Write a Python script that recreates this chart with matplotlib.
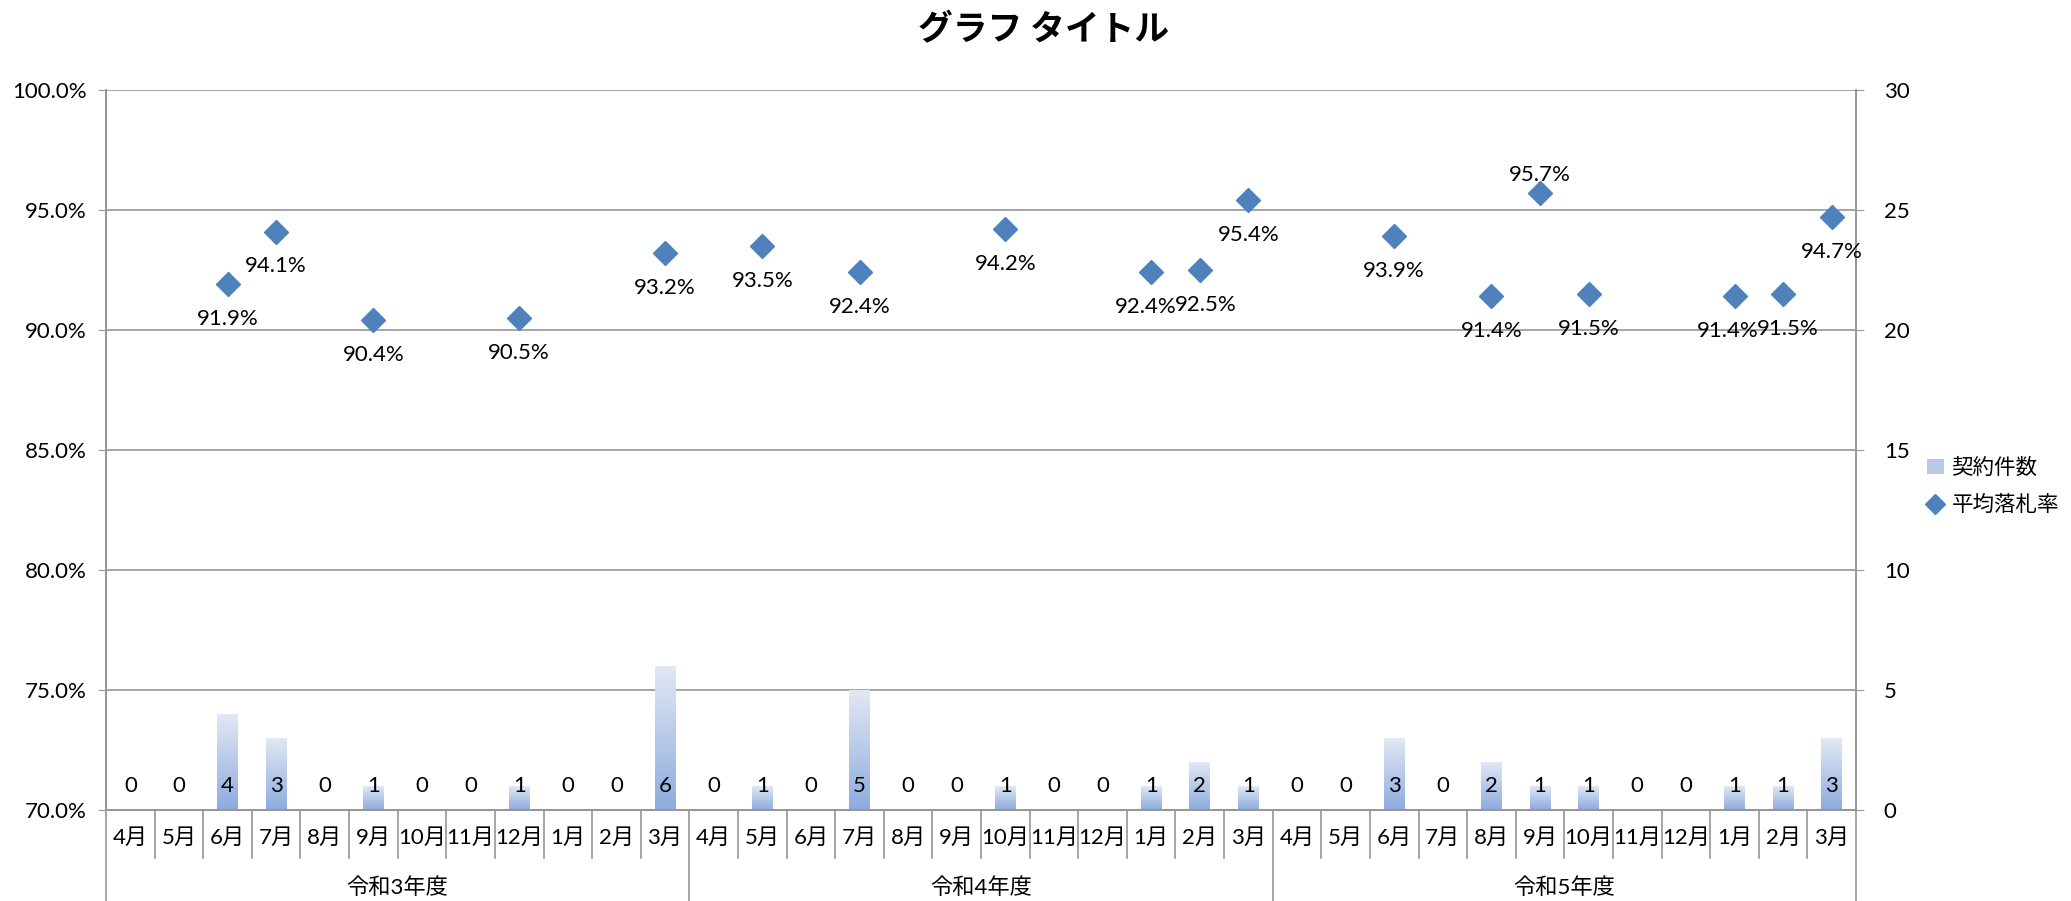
import numpy as np
import matplotlib
matplotlib.use("Agg")
import matplotlib.pyplot as plt
from matplotlib.colors import LinearSegmentedColormap
from matplotlib.patches import Patch
from matplotlib.lines import Line2D
import matplotlib.transforms as mtransforms

plt.rcParams['font.family'] = ['Lato', 'Noto Sans CJK JP', 'DejaVu Sans']

# data
years = ["令和3年度", "令和4年度", "令和5年度"]
months = ["4月", "5月", "6月", "7月", "8月", "9月", "10月", "11月", "12月", "1月", "2月", "3月"]
counts_r3 = [0, 0, 4, 3, 0, 1, 0, 0, 1, 0, 0, 6]
counts_r4 = [0, 1, 0, 5, 0, 0, 1, 0, 0, 1, 2, 1]
counts_r5 = [0, 0, 3, 0, 2, 1, 1, 0, 0, 1, 1, 3]
rate_r3 = [None, None, 91.9, 94.1, None, 90.4, None, None, 90.5, None, None, 93.2]
rate_r4 = [None, 93.5, None, 92.4, None, None, 94.2, None, None, 92.4, 92.5, 95.4]
rate_r5 = [None, None, 93.9, None, 91.4, 95.7, 91.5, None, None, 91.4, 91.5, 94.7]

counts = counts_r3 + counts_r4 + counts_r5
rates = rate_r3 + rate_r4 + rate_r5
labels = months * 3
x = np.arange(len(counts))

# label tweaks (index -> dx in pt), labels placed above for these
lab_dx = {21: -4, 22: 4, 33: -5, 34: 3}
lab_above = {29}

grid_c = "#969696"
blue = "#4f81bd"
fs = 16

fig = plt.figure(figsize=(20.71, 9.01), dpi=100)
ax = fig.add_axes([0.0512, 0.101, 0.845, 0.799])
ax2 = ax.twinx()

# bars on right axis, gradient fill
bars = ax2.bar(x, counts, width=0.43, color="none", edgecolor="none", zorder=2)
cmap = LinearSegmentedColormap.from_list("g", ["#8dabde", "#e2e8f4"])
grad = np.linspace(0, 1, 256).reshape(-1, 1)
for r in bars:
    h = r.get_height()
    if h > 0:
        ax2.imshow(grad, extent=(r.get_x(), r.get_x() + r.get_width(), 0, h),
                   aspect="auto", cmap=cmap, origin="lower", zorder=2)
for i, v in enumerate(counts):
    ax2.text(i, 1, str(v), ha="center", va="center", fontsize=fs, zorder=3)

ax2.set_ylim(0, 30)
ax2.set_xlim(-0.5, len(counts) - 0.5)
ax2.set_yticks(np.arange(0, 31, 5))
ax2.grid(axis="y", color=grid_c, linewidth=1.2)
ax2.set_axisbelow(True)
ax2.tick_params(axis="y", labelsize=fs, length=6, color=grid_c, pad=14)

# rates on left axis
ax.set_zorder(ax2.get_zorder() + 1)
ax.patch.set_visible(False)
rx = [i for i, r in enumerate(rates) if r is not None]
ry = [rates[i] for i in rx]
ax.plot(rx, ry, linestyle="none", marker="D", markersize=12, color=blue,
        markeredgecolor=blue, zorder=4)
for i, r in zip(rx, ry):
    if i in lab_above:
        off = (lab_dx.get(i, 0), 13)
    else:
        off = (lab_dx.get(i, 0), -25)
    ax.annotate(f"{r:.1f}%", (i, r), xytext=off, textcoords="offset points",
                ha="center", va="center", fontsize=fs)

ax.set_ylim(70, 100)
ax.set_xlim(-0.5, len(counts) - 0.5)
ax.set_yticks(np.arange(70, 100.1, 5))
ax.yaxis.set_major_formatter(lambda v, p: f"{v:.1f}%")
ax.tick_params(axis="y", labelsize=fs, length=6, color=grid_c, pad=8)
ax.set_xticks(x)
ax.set_xticklabels(labels, fontsize=fs)
ax.tick_params(axis="x", length=0, pad=13)
ax2.tick_params(axis="x", length=0)

for a in (ax, ax2):
    a.spines["top"].set_visible(False)
    for s in ("left", "right", "bottom"):
        a.spines[s].set_color(grid_c)
        a.spines[s].set_linewidth(1.2)

# multi-level category separators
trans = mtransforms.blended_transform_factory(ax.transData, ax.transAxes)
n = len(counts)
for k in range(n + 1):
    xb = k - 0.5
    depth = -0.13 if k % 12 == 0 else -0.067
    ax.plot([xb, xb], [0, depth], color=grid_c, lw=1.2, transform=trans, clip_on=False)
for j, yname in enumerate(years):
    ax.text(j * 12 + 5.5, -0.108, yname, transform=trans, ha="center", va="center",
            fontsize=fs)

fig.text(0.504, 0.967, "グラフ タイトル", ha="center", va="center", fontsize=25,
         fontweight="bold", family=["Noto Sans CJK JP", "DejaVu Sans"])

handles = [Patch(facecolor="#b9cae9", edgecolor="none"),
           Line2D([], [], linestyle="none", marker="D", markersize=10, color=blue)]
fig.legend(handles, ["契約件数", "平均落札率"], loc="center left",
           bbox_to_anchor=(0.921, 0.46), frameon=False,
           handlelength=0.8, handletextpad=0.35, labelspacing=0.7,
           prop={"family": ["Noto Sans CJK JP"], "size": 15.5})

fig.savefig("out.png", dpi=100)
